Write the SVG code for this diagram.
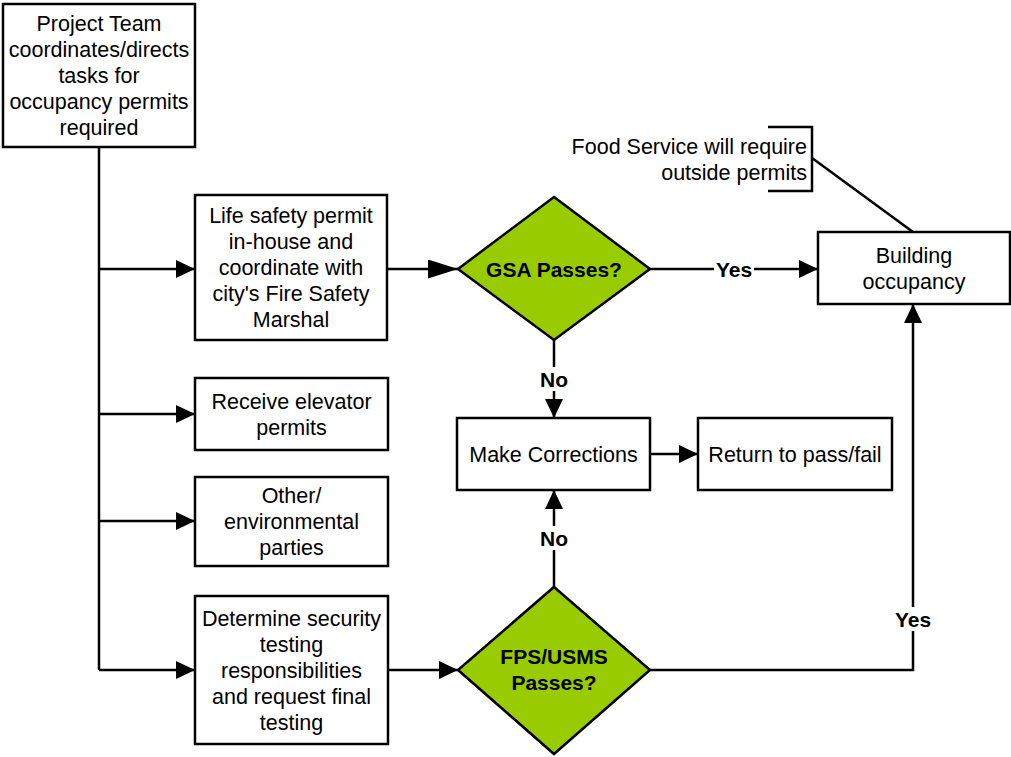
<svg xmlns="http://www.w3.org/2000/svg" width="1011" height="757" viewBox="0 0 1011 757">
<style>
.box{fill:#fff;stroke:#000;stroke-width:2.5}
.dia{fill:#99CC00;stroke:#000;stroke-width:2.5}
.ln{fill:none;stroke:#000;stroke-width:2.5}
text{font-family:"Liberation Sans",Arial,sans-serif;font-size:21.5px;fill:#000;text-anchor:middle}
.b{font-weight:bold;font-size:21px}
.lbg{fill:#fff;stroke:none}
</style>
<defs>
<marker id="ah" markerUnits="userSpaceOnUse" markerWidth="19" markerHeight="18" refX="19" refY="9" orient="auto">
<path d="M0,0 L19,9 L0,18 z" fill="#000"/>
</marker>
<marker id="ahl" markerUnits="userSpaceOnUse" markerWidth="30" markerHeight="19" refX="30" refY="9.5" orient="auto">
<path d="M0,0 L30,9.5 L0,19 z" fill="#000"/>
</marker>
</defs>
<rect width="1011" height="757" fill="#fff"/>
<g id="connectors">
<path class="ln" d="M99,147 V670"/>
<path class="ln" d="M99,269 H195" marker-end="url(#ah)"/>
<path class="ln" d="M99,414 H195" marker-end="url(#ah)"/>
<path class="ln" d="M99,521 H195" marker-end="url(#ah)"/>
<path class="ln" d="M99,670 H195" marker-end="url(#ah)"/>
<path class="ln" d="M387,269 H458" marker-end="url(#ahl)"/>
<path class="ln" d="M388,670 H458" marker-end="url(#ah)"/>
<path class="ln" d="M650,269 H818" marker-end="url(#ah)"/>
<path class="ln" d="M554,340 V418" marker-end="url(#ah)"/>
<path class="ln" d="M554,587 V490" marker-end="url(#ah)"/>
<path class="ln" d="M650,454 H698" marker-end="url(#ah)"/>
<path class="ln" d="M650,670 H913 V304" marker-end="url(#ah)"/>
<path class="ln" d="M812,158 L913,232"/>
<rect class="lbg" x="714" y="257" width="40" height="24"/>
<text class="b" x="734" y="276.5">Yes</text>
<rect class="lbg" x="539" y="367" width="30" height="24"/>
<text class="b" x="554" y="386.5">No</text>
<rect class="lbg" x="539" y="526" width="30" height="24"/>
<text class="b" x="554" y="545.5">No</text>
<rect class="lbg" x="893" y="607" width="40" height="24"/>
<text class="b" x="913" y="626.5">Yes</text>
</g>
<g id="project-team">
<rect class="box" x="3" y="4" width="192" height="143"/>
<text x="99" y="31">Project Team</text>
<text x="99" y="57">coordinates/directs</text>
<text x="99" y="83">tasks for</text>
<text x="99" y="109">occupancy permits</text>
<text x="99" y="135">required</text>
</g>
<g id="life-safety">
<rect class="box" x="195" y="195" width="192" height="145"/>
<text x="291" y="223">Life safety permit</text>
<text x="291" y="249">in-house and</text>
<text x="291" y="275">coordinate with</text>
<text x="291" y="301">city's Fire Safety</text>
<text x="291" y="327">Marshal</text>
</g>
<g id="elevator">
<rect class="box" x="195" y="378" width="193" height="72"/>
<text x="291.5" y="408.5">Receive elevator</text>
<text x="291.5" y="434.5">permits</text>
</g>
<g id="other">
<rect class="box" x="195" y="477" width="193" height="89"/>
<text x="291.5" y="502.5">Other/</text>
<text x="291.5" y="528.5">environmental</text>
<text x="291.5" y="554.5">parties</text>
</g>
<g id="security">
<rect class="box" x="195" y="596" width="193" height="148"/>
<text x="291.5" y="625.5">Determine security</text>
<text x="291.5" y="651.5">testing</text>
<text x="291.5" y="677.5">responsibilities</text>
<text x="291.5" y="703.5">and request final</text>
<text x="291.5" y="729.5">testing</text>
</g>
<g id="gsa">
<polygon class="dia" points="554,197 650,269 554,340 458,269"/>
<text class="b" x="554" y="276.5">GSA Passes?</text>
</g>
<g id="fps">
<polygon class="dia" points="554,587 650,670 554,754 458,670"/>
<text class="b" x="554" y="664">FPS/USMS</text>
<text class="b" x="554" y="690">Passes?</text>
</g>
<g id="corrections">
<rect class="box" x="457" y="418" width="193" height="72"/>
<text x="553.5" y="461.5">Make Corrections</text>
</g>
<g id="return">
<rect class="box" x="698" y="418" width="194" height="72"/>
<text x="795" y="461.5">Return to pass/fail</text>
</g>
<g id="occupancy">
<rect class="box" x="818" y="232" width="192" height="72"/>
<text x="914" y="262.5">Building</text>
<text x="914" y="288.5">occupancy</text>
</g>
<g id="food-note">
<path class="ln" d="M768,127 H812 V191 H768"/>
<text x="807" y="153.5" style="text-anchor:end">Food Service will require</text>
<text x="807" y="179.5" style="text-anchor:end">outside permits</text>
</g>
</svg>
